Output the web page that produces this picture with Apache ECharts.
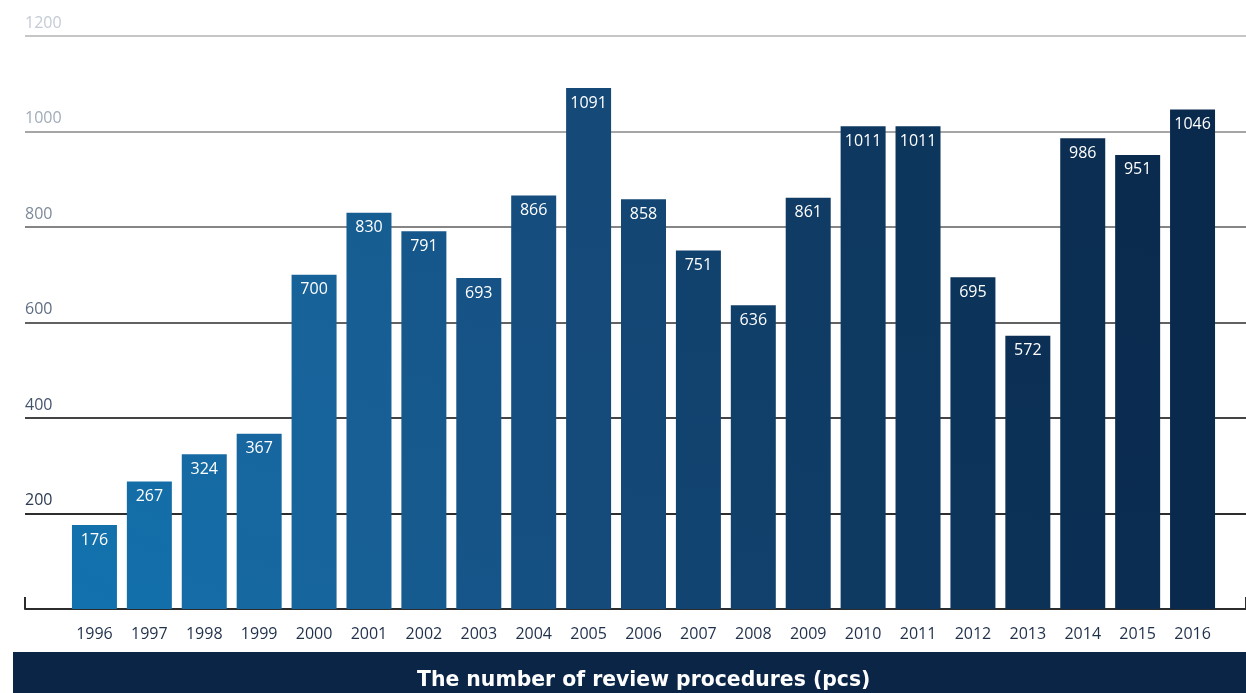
<!DOCTYPE html>
<html>
<head>
<meta charset="utf-8">
<title>Review procedures</title>
<script src="https://cdn.jsdelivr.net/npm/echarts@6/dist/echarts.min.js"></script>
<style>
  html, body { margin: 0; padding: 0; background: #fff; }
  #chart { width: 1246px; height: 693px; }
</style>
</head>
<body>
<div id="chart"></div>
<script>
// data
const years = ['1996', '1997', '1998', '1999', '2000', '2001', '2002', '2003', '2004', '2005', '2006',
  '2007', '2008', '2009', '2010', '2011', '2012', '2013', '2014', '2015', '2016']
const procedures = [176, 267, 324, 367, 700, 830, 791, 693, 866, 1091, 858,
  751, 636, 861, 1011, 1011, 695, 572, 986, 951, 1046]
const yTicks = [0, 200, 400, 600, 800, 1000, 1200]
const chartTitle = 'The number of review procedures (pcs)'

// colours, bottom line first
const lineColors = ['#2c2c2c', '#2e2e2e', '#444444', '#626262', '#858585', '#a6a6a6', '#c6c6c6']
const labelColors = ['#2b3a50', '#2b3a50', '#445368', '#5f6d80', '#7d8a9a', '#a0abb8', '#c3cbd5']
const barStops = [[0, '#1272ae'], [4, '#17659d'], [9, '#154b7b'], [14, '#0e3a62'], [20, '#0a2a4d']]

function hexToRgb(h) {
  return [1, 3, 5].map((i) => parseInt(h.slice(i, i + 2), 16))
}
function mix(a, b, t) {
  const ca = hexToRgb(a), cb = hexToRgb(b)
  return 'rgb(' + ca.map((v, i) => Math.round(v + (cb[i] - v) * t)).join(',') + ')'
}
function barColor(i) {
  for (let k = 0; k < barStops.length - 1; k++) {
    const [i0, c0] = barStops[k], [i1, c1] = barStops[k + 1]
    if (i >= i0 && i <= i1) return mix(c0, c1, (i - i0) / (i1 - i0))
  }
  return barStops[barStops.length - 1][1]
}

const chart = echarts.init(document.getElementById('chart'))

const yMax = yTicks[yTicks.length - 1]
const font = '"Open Sans", "Noto Sans", sans-serif'

const option = {
  animation: false,
  grid: [
    { left: 25, right: 0, top: 36, bottom: 84 },
    { left: 67, right: 26, top: 36, bottom: 84 },
  ],
  xAxis: [
    {
      gridIndex: 0,
      type: 'value',
      min: 0,
      max: 1,
      interval: 1,
      axisLine: { show: true, lineStyle: { color: '#2c2c2c', width: 2 } },
      axisTick: { show: true, inside: true, length: 12, lineStyle: { color: '#2c2c2c', width: 2 } },
      axisLabel: { show: false },
      splitLine: { show: false },
    },
    {
      gridIndex: 1,
      type: 'category',
      data: years,
      axisLine: { show: false },
      axisTick: { show: false },
      axisLabel: {
        color: '#1f304a',
        fontSize: 16,
        fontFamily: font,
        margin: 17,
      },
    },
  ],
  yAxis: [
    {
      gridIndex: 0,
      type: 'value',
      min: 0,
      max: yMax,
      interval: 200,
      axisLine: { show: false },
      axisTick: { show: false },
      splitLine: {
        show: true,
        showMinLine: false,
        lineStyle: { color: lineColors.slice(1), width: 2 },
      },
      axisLabel: {
        inside: true,
        margin: 0,
        showMinLabel: false,
        verticalAlign: 'bottom',
        padding: [0, 0, 5, 0],
        fontSize: 16,
        fontFamily: font,
        formatter: (value) => String(value),
        color: (value) => labelColors[yTicks.indexOf(Number(value))] || '#2b3a50',
      },
    },
    {
      gridIndex: 1,
      type: 'value',
      min: 0,
      max: yMax,
      interval: 200,
      show: false,
    },
  ],
  series: [
    {
      type: 'bar',
      xAxisIndex: 1,
      yAxisIndex: 1,
      barWidth: 45,
      data: procedures.map((v, i) => ({
        value: v,
        itemStyle: {
          color: new echarts.graphic.LinearGradient(0, 1, 1, 0, [
            { offset: 0, color: barColor(i) },
            { offset: 1, color: barColor(Math.min(20, i + 0.6)) },
          ]),
        },
      })),
      label: {
        show: true,
        position: 'insideTop',
        distance: 7,
        color: '#fff',
        fontSize: 16,
        fontFamily: font,
      },
    },
  ],
  graphic: [
    {
      type: 'rect',
      left: 13,
      bottom: 0,
      shape: { width: 1233, height: 41 },
      style: { fill: '#0b2547' },
    },
    {
      type: 'text',
      left: 417,
      bottom: 2,
      style: {
        text: chartTitle,
        fill: '#fff',
        font: 'bold 20.4px "DejaVu Sans", sans-serif',
      },
    },
  ],
}

chart.setOption(option)
window.addEventListener('resize', () => chart.resize())
</script>
</body>
</html>
